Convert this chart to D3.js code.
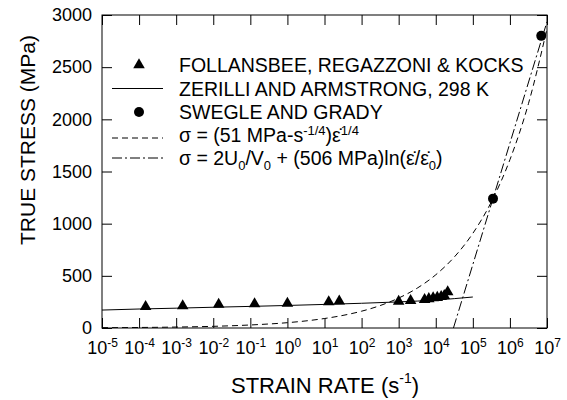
<!DOCTYPE html>
<html>
<head>
<meta charset="utf-8">
<script src="https://cdn.jsdelivr.net/npm/d3@7"></script>
<style>
  body { margin: 0; background: #fff; }
  text { font-family: "Liberation Sans", Arial, sans-serif; fill: #000; }
</style>
</head>
<body>
<script>
// chart values
var xDecades = [-5, -4, -3, -2, -1, 0, 1, 2, 3, 4, 5, 6, 7];
var yTicks = [0, 500, 1000, 1500, 2000, 2500, 3000];

// Follansbee, Regazzoni & Kocks (strain rate, stress)
var follRate   = [1.5e-4, 1.5e-3, 1.4e-2, 1.3e-1, 1.0, 13, 25, 1000, 2100, 5000, 6500, 8500, 1.1e4, 1.4e4, 1.7e4, 2.1e4];
var follStress = [205, 212, 225, 230, 236, 250, 258, 255, 262, 272, 280, 288, 292, 300, 310, 345];

// Zerilli and Armstrong, 298 K
var zaRate   = [1e-5, 1e-4, 1e-3, 1e-2, 1e-1, 1, 10, 100, 1e3, 1e4, 1e5];
var zaStress = [172, 182, 190, 199, 207, 216, 226, 237, 250, 268, 297];

// Swegle and Grady
var sgRate   = [3.5e5, 7e6];
var sgStress = [1240, 2800];

// dashed curve, 51 MPa-s^-1/4 fit
var powRate   = [1e-5, 1e-4, 1e-3, 1e-2, 1e-1, 1, 3.16, 10, 31.6, 100, 316, 1e3, 3.16e3, 1e4, 3.16e4, 1e5, 3.16e5, 1e6, 3.16e6, 1e7];
var powStress = [3, 5, 9, 16, 29, 51, 68, 91, 121, 161, 215, 287, 382, 510, 680, 907, 1209, 1613, 2150, 2868];

// dash-dot line, ln fit
var lnRate   = [3.0e4, 1e7];
var lnStress = [0, 2935];

var width = 567, height = 400;
var ml = 102, mr = 547, mt = 15, mb = 328;

var svg = d3.select("body").append("svg")
    .attr("width", width)
    .attr("height", height);

var x = d3.scaleLog().domain([1e-5, 1e7]).range([ml, mr]);
var y = d3.scaleLinear().domain([0, 3000]).range([mb, mt]);

// clip for curves
svg.append("clipPath").attr("id", "plotclip")
  .append("rect")
    .attr("x", ml).attr("y", mt)
    .attr("width", mr - ml).attr("height", mb - mt);

var xTickVals = xDecades.map(function(d) { return Math.pow(10, d); });

// bottom axis, ticks inward
var gx = svg.append("g")
    .attr("transform", "translate(0," + mb + ")")
    .call(d3.axisBottom(x).tickValues(xTickVals).tickSizeInner(-10).tickSizeOuter(0).tickPadding(13).tickFormat(""));

gx.selectAll(".tick text").each(function(d, i) {
  var t = d3.select(this);
  t.attr("font-size", 18).attr("dy", "0.71em").attr("font-family", "Liberation Sans, Arial, sans-serif");
  t.append("tspan").text("10");
  t.append("tspan").attr("font-size", 12).attr("dy", "-0.6em").text(xDecades[i]);
});

// top axis
svg.append("g")
    .attr("transform", "translate(0," + mt + ")")
    .call(d3.axisTop(x).tickValues(xTickVals).tickSizeInner(-10).tickSizeOuter(0).tickFormat(""));

// left axis
svg.append("g")
    .attr("transform", "translate(" + ml + ",0)")
    .call(d3.axisLeft(y).tickValues(yTicks).tickFormat(d3.format("d")).tickSizeInner(-10).tickSizeOuter(0).tickPadding(10))
    .selectAll("text").attr("font-size", 18).attr("font-family", "Liberation Sans, Arial, sans-serif");

// right axis
svg.append("g")
    .attr("transform", "translate(" + mr + ",0)")
    .call(d3.axisRight(y).tickValues(yTicks).tickSizeInner(-10).tickSizeOuter(0).tickFormat(""));

svg.selectAll(".domain").remove();
svg.selectAll(".tick line").attr("stroke", "#000");

// frame
svg.append("rect")
    .attr("x", ml).attr("y", mt)
    .attr("width", mr - ml).attr("height", mb - mt)
    .attr("fill", "none").attr("stroke", "#000").attr("stroke-width", 1);

var plot = svg.append("g").attr("clip-path", "url(#plotclip)");

function pairs(xs, ys) {
  return xs.map(function(d, i) { return [d, ys[i]]; });
}

var line = d3.line()
    .x(function(d) { return x(d[0]); })
    .y(function(d) { return y(d[1]); });

var smooth = d3.line()
    .curve(d3.curveMonotoneX)
    .x(function(d) { return x(d[0]); })
    .y(function(d) { return y(d[1]); });

// zerilli line
plot.append("path")
    .attr("d", smooth(pairs(zaRate, zaStress)))
    .attr("fill", "none").attr("stroke", "#000").attr("stroke-width", 1);

// dashed power law
plot.append("path")
    .attr("d", smooth(pairs(powRate, powStress)))
    .attr("fill", "none").attr("stroke", "#000").attr("stroke-width", 1)
    .attr("stroke-dasharray", "6,4");

// dash-dot
plot.append("path")
    .attr("d", line(pairs(lnRate, lnStress)))
    .attr("fill", "none").attr("stroke", "#000").attr("stroke-width", 1)
    .attr("stroke-dasharray", "10,3,2,3");

var tri = d3.symbol().type(d3.symbolTriangle).size(58);

svg.append("g").selectAll("path")
    .data(pairs(follRate, follStress))
    .enter().append("path")
    .attr("transform", function(d) { return "translate(" + x(d[0]) + "," + y(d[1]) + ")"; })
    .attr("d", tri)
    .attr("fill", "#000");

svg.append("g").selectAll("circle")
    .data(pairs(sgRate, sgStress))
    .enter().append("circle")
    .attr("cx", function(d) { return x(d[0]); })
    .attr("cy", function(d) { return y(d[1]); })
    .attr("r", 5)
    .attr("fill", "#000");

// legend
var lg = svg.append("g");
var rows = [65, 88.5, 112, 135, 158];
var lx0 = 112, lx1 = 163, tx = 179;

lg.append("path").attr("d", tri).attr("transform", "translate(139," + rows[0] + ")").attr("fill", "#000");
lg.append("line").attr("x1", lx0).attr("x2", lx1).attr("y1", rows[1]).attr("y2", rows[1]).attr("stroke", "#000");
lg.append("circle").attr("cx", 139).attr("cy", rows[2]).attr("r", 5).attr("fill", "#000");
lg.append("line").attr("x1", lx0).attr("x2", lx1).attr("y1", rows[3] + 3).attr("y2", rows[3] + 3).attr("stroke", "#000").attr("stroke-dasharray", "6,4");
lg.append("line").attr("x1", lx0).attr("x2", lx1).attr("y1", rows[4]).attr("y2", rows[4]).attr("stroke", "#000").attr("stroke-dasharray", "10,3,2,3");

var fs = 19.5;
function legText(row) {
  return lg.append("text").attr("x", tx).attr("y", row).attr("dy", "0.36em").attr("font-size", fs);
}
legText(rows[0]).text("FOLLANSBEE, REGAZZONI & KOCKS");
legText(rows[1]).text("ZERILLI AND ARMSTRONG, 298 K");
legText(rows[2]).text("SWEGLE AND GRADY");

var t4 = legText(rows[3]);
t4.append("tspan").text("\u03c3 = (51 MPa-s");
t4.append("tspan").attr("font-size", 13).attr("dy", -7).text("-1/4");
t4.append("tspan").attr("dy", 7).text(")\u03b5\u0307");
t4.append("tspan").attr("font-size", 13).attr("dy", -7).text("1/4");

var t5 = legText(rows[4]);
t5.append("tspan").text("\u03c3 = 2U");
t5.append("tspan").attr("font-size", 13).attr("dy", 5).text("0");
t5.append("tspan").attr("dy", -5).text("/V");
t5.append("tspan").attr("font-size", 13).attr("dy", 5).text("0");
t5.append("tspan").attr("dy", -5).text(" + (506 MPa)ln(\u03b5\u0307/\u03b5\u0307");
t5.append("tspan").attr("font-size", 13).attr("dy", 5).text("0");
t5.append("tspan").attr("dy", -5).text(")");

// axis titles
var xt = svg.append("text")
    .attr("x", 325).attr("y", 393)
    .attr("text-anchor", "middle").attr("font-size", 22);
xt.append("tspan").text("STRAIN RATE (s");
xt.append("tspan").attr("font-size", 14).attr("dy", -10).text("-1");
xt.append("tspan").attr("dy", 10).text(")");

svg.append("text")
    .attr("transform", "translate(35,140) rotate(-90)")
    .attr("text-anchor", "middle").attr("font-size", 21)
    .text("TRUE STRESS (MPa)");
</script>
</body>
</html>
